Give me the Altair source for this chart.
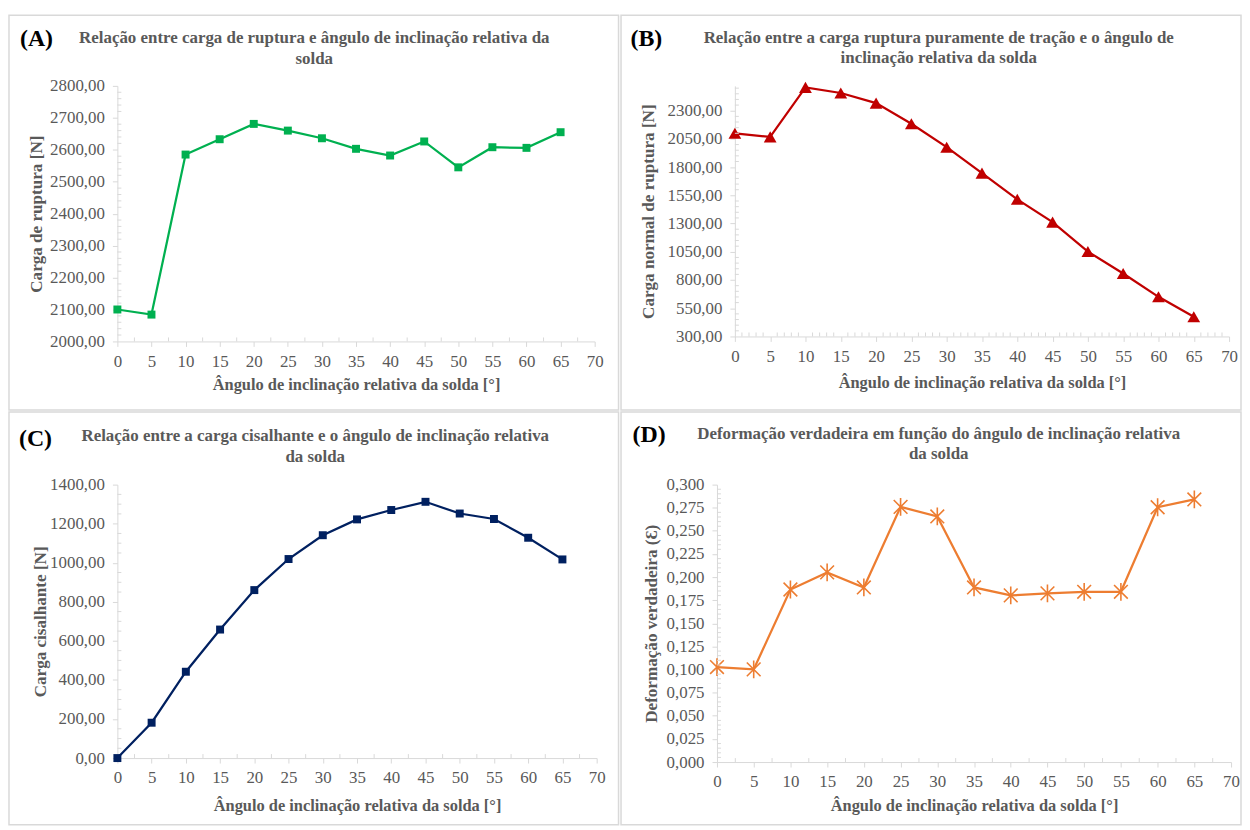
import altair as alt
import pandas as pd
import numpy as np

# ---------------- data ----------------
angles = [0, 5, 10, 15, 20, 25, 30, 35, 40, 45, 50, 55, 60, 65]
carga_ruptura = [2100, 2084, 2585, 2633, 2681, 2660, 2636, 2603, 2582, 2626, 2545, 2608, 2606, 2655]
carga_normal = [2100, 2068, 2507, 2457, 2367, 2185, 1977, 1747, 1515, 1313, 1052, 858, 651, 474]
carga_cisalhante = [0, 181, 442, 658, 860, 1019, 1141, 1222, 1270, 1312, 1252, 1224, 1128, 1017]
deformacao = [0.1027, 0.1002, 0.1866, 0.2051, 0.1888, 0.2759, 0.2656, 0.1888, 0.1802, 0.1824,
              0.1841, 0.1841, 0.2755, 0.2840]

x_ticks = list(range(0, 75, 5))
yticks_a = [2000, 2100, 2200, 2300, 2400, 2500, 2600, 2700, 2800]
yticks_b = [300, 550, 800, 1050, 1300, 1550, 1800, 2050, 2300]
yticks_c = [0, 200, 400, 600, 800, 1000, 1200, 1400]
yticks_d = [0.0, 0.025, 0.05, 0.075, 0.1, 0.125, 0.15, 0.175, 0.2, 0.225, 0.25, 0.275, 0.3]

x_title = "Ângulo de inclinação relativa da solda [°]"

SERIF = "Liberation Serif"
GRAY = "#595959"
AXC = "#D9D9D9"
STAR = "M-1,-1L1,1M-1,1L1,-1M0,-1.3L0,1.3"


def minor(lo, hi, step, majors):
    vals = np.round(np.arange(lo, hi + step / 2, step), 6)
    return [float(v) for v in vals if not any(abs(v - m) < 1e-9 for m in majors)]


def panel(values, color, shape, size, filled, ydomain, yticks, ydec, yminor_step, xminor_step,
          w, h, ytitle, ytp, xtp, title, tx, ty, lh, letter, lx, ly, rect):
    df = pd.DataFrame({"x": angles, "y": values})
    xscale = alt.Scale(domain=[0, 70], nice=False, zero=False)
    yscale = alt.Scale(domain=ydomain, nice=False, zero=False)
    xaxis = alt.Axis(values=x_ticks, title=x_title, titlePadding=xtp, labelPadding=7, tickSize=5,
                     labelFlush=False, labelOverlap=False, titleFontSize=16.5)
    yaxis = alt.Axis(values=yticks, title=ytitle, titlePadding=ytp, labelPadding=8, tickSize=5,
                     labelFlush=False, labelOverlap=False, titleFontSize=17.2,
                     labelExpr=f"replace(format(datum.value, '.{ydec}f'), '.', ',')")
    base = alt.Chart(df)
    line = base.mark_line(color=color, strokeWidth=2.25).encode(
        x=alt.X("x:Q", scale=xscale, axis=xaxis),
        y=alt.Y("y:Q", scale=yscale, axis=yaxis),
    )
    if filled:
        pts = base.mark_point(shape=shape, size=size, filled=True, color=color, opacity=1)
    else:
        pts = base.mark_point(shape=shape, size=size, filled=False, stroke=color, strokeWidth=1.6,
                              opacity=1)
    pts = pts.encode(x=alt.X("x:Q", scale=xscale, axis=xaxis),
                     y=alt.Y("y:Q", scale=yscale, axis=yaxis))

    ym = minor(ydomain[0], ydomain[1], yminor_step, yticks)
    ymin = alt.Chart(pd.DataFrame({"y": ym})).mark_rule(color=AXC, strokeWidth=1).encode(
        y=alt.Y("y:Q", scale=yscale, axis=yaxis), x=alt.value(0), x2=alt.value(4))
    xm = minor(0, 70, xminor_step, x_ticks)
    xmin = alt.Chart(pd.DataFrame({"x": xm})).mark_rule(color=AXC, strokeWidth=1).encode(
        x=alt.X("x:Q", scale=xscale, axis=xaxis), y=alt.value(h), y2=alt.value(h - 4))

    one = pd.DataFrame({"a": [0]})
    border = alt.Chart(one).mark_rect(fillOpacity=0, stroke=AXC, strokeWidth=1.5).encode(
        x=alt.value(rect[0]), x2=alt.value(rect[1]), y=alt.value(rect[2]), y2=alt.value(rect[3]))
    ttl = alt.Chart(one).mark_text(font=SERIF, fontSize=17, fontWeight="bold", color=GRAY,
                                   lineBreak="\n", lineHeight=lh, align="center",
                                   baseline="middle").encode(
        x=alt.value(tx), y=alt.value(ty), text=alt.value(title))
    let = alt.Chart(one).mark_text(font=SERIF, fontSize=24, fontWeight="bold", color="#000000",
                                   align="left", baseline="middle").encode(
        x=alt.value(lx), y=alt.value(ly), text=alt.value(letter))
    return alt.layer(line, pts, ymin, xmin, border, ttl, let).properties(width=w, height=h)


A = panel(carga_ruptura, "#00B050", "square", 64, True, [2000, 2800], yticks_a, 2, 20, 2.5,
          480, 257, "Carga de ruptura [N]", 4, 7,
          "Relação entre carga de ruptura e ângulo de inclinação relativa da\nsolda",
          198, -48, 21, "(A)", -98, -47, [-109, 504, -71, 326])
B = panel(carga_normal, "#C00000", "triangle-up", 165, True, [300, 2520], yticks_b, 2, 50, 1,
          497, 252, "Carga normal de ruptura [N]", 10, 10,
          "Relação entre a carga ruptura puramente de tração e o ângulo de\ninclinação relativa da solda",
          205, -48, 20, "(B)", -105, -47, [-114.5, 509, -71, 326])
C = panel(carga_cisalhante, "#002060", "square", 64, True, [0, 1400], yticks_c, 2, 50, 2.5,
          482, 275, "Carga cisalhante [N]", 0, 12,
          "Relação entre a carga cisalhante e o ângulo de inclinação relativa\nda solda",
          199, -49, 21, "(C)", -99, -46, [-109, 504, -73, 342])
D = panel(deformacao, "#ED7D31", STAR, 190, False, [0, 0.3], yticks_d, 3, 0.005, 2.5,
          517, 279, "Deformação verdadeira (Ɛ)", 6, 8,
          "Deformação verdadeira em função do ângulo de inclinação relativa\nda solda",
          223, -51, 20, "(D)", -85, -50, [-96.5, 527, -73, 342])

chart = alt.vconcat(
    alt.hconcat(A, B, spacing=0),
    alt.hconcat(C, D, spacing=0),
    spacing=0,
).properties(
    padding={"left": 0, "top": 4, "right": 0, "bottom": 0}
).configure_view(
    strokeOpacity=0
).configure_axis(
    grid=False, domainColor=AXC, tickColor=AXC, labelColor=GRAY, titleColor=GRAY,
    labelFont=SERIF, titleFont=SERIF, labelFontSize=17,
    titleFontWeight="bold", domainWidth=1, tickWidth=1,
)

chart.save("out.html", embed_options={"renderer": "svg", "actions": False})
